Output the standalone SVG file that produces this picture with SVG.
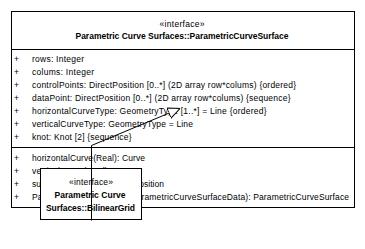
<svg xmlns="http://www.w3.org/2000/svg" width="365" height="249" viewBox="0 0 365 249">
  <style>
    .box { fill: #ffffff; stroke: #000000; stroke-width: 1; }
    .sep { stroke: #000000; stroke-width: 1; }
    text { font-family: "Liberation Sans", Arial, sans-serif; font-size: 8.5px; fill: #000000; }
    .ctr { text-anchor: middle; }
    .b { font-weight: bold; }
    .edge { fill: none; stroke: #000000; stroke-width: 1; }
  </style>
  <defs>
    <marker id="gen" viewBox="0 0 12 12" refX="12" refY="6" markerWidth="12" markerHeight="12" markerUnits="userSpaceOnUse" orient="auto">
      <path d="M0,0.5 L12,6 L0,11.5 Z" fill="#ffffff" stroke="#000000" stroke-width="1"/>
    </marker>
  </defs>
  <rect width="365" height="249" fill="#ffffff"/>

  <g id="ParametricCurveSurface">
    <rect class="box" x="11.5" y="11.5" width="343" height="196"/>
    <line class="sep" x1="11.5" y1="49.5" x2="354.5" y2="49.5"/>
    <line class="sep" x1="11.5" y1="147.5" x2="354.5" y2="147.5"/>
    <text class="ctr" x="182" y="27" textLength="45">«interface»</text>
    <text class="ctr b" x="182" y="38.5" textLength="213">Parametric Curve Surfaces::ParametricCurveSurface</text>

    <text x="14" y="62">+</text>
    <text x="32" y="62" textLength="52">rows: Integer</text>
    <text x="14" y="75">+</text>
    <text x="32" y="75" textLength="62">colums: Integer</text>
    <text x="14" y="88">+</text>
    <text x="32" y="88" textLength="264">controlPoints: DirectPosition [0..*] (2D array row*colums) {ordered}</text>
    <text x="14" y="101">+</text>
    <text x="32" y="101" textLength="258.5">dataPoint: DirectPosition [0..*] (2D array row*colums) {sequence}</text>
    <text x="14" y="114">+</text>
    <text x="32" y="114" textLength="234.5">horizontalCurveType: GeometryType [1..*] = Line {ordered}</text>
    <text x="14" y="127">+</text>
    <text x="32" y="127" textLength="161">verticalCurveType: GeometryType = Line</text>
    <text x="14" y="140">+</text>
    <text x="32" y="140" textLength="99.5">knot: Knot [2] {sequence}</text>

    <text x="14" y="161">+</text>
    <text x="32" y="161" textLength="113">horizontalCurve(Real): Curve</text>
    <text x="14" y="174">+</text>
    <text x="32" y="174" textLength="104">verticalCurve(Real): Curve</text>
    <text x="14" y="187">+</text>
    <text x="32" y="187" textLength="132">surface(Real, Real): DirectPosition</text>
    <text x="14" y="200">+</text>
    <text x="32" y="200" textLength="317">ParametricCurveSurface(ParametricCurveSurfaceData): ParametricCurveSurface</text>
  </g>

  <g id="BilinearGrid">
    <rect class="box" x="40.5" y="168.5" width="101" height="51"/>
    <text class="ctr" x="91" y="184.5" textLength="44">«interface»</text>
    <text class="ctr b" x="90" y="197.5" textLength="71">Parametric Curve</text>
    <text class="ctr b" x="90.5" y="210.5" textLength="89">Surfaces::BilinearGrid</text>
  </g>

  <g id="connectors">
    <polyline class="edge" points="91.5,220.5 91.5,145.5 180,108.5" marker-end="url(#gen)"/>
  </g>
</svg>
